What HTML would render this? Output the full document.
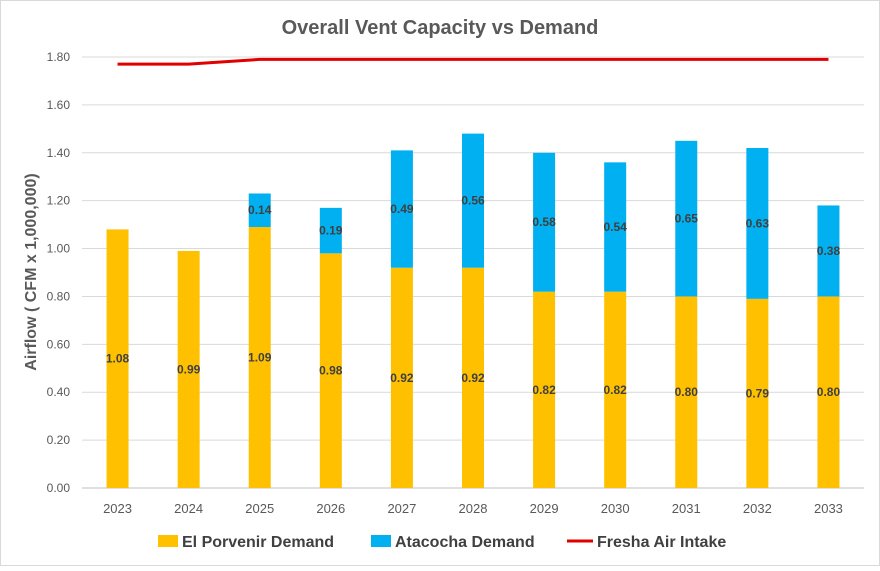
<!DOCTYPE html>
<html><head><meta charset="utf-8"><style>
body{margin:0;background:#fff;font-family:"Liberation Sans",Arial,sans-serif}
svg text{font-family:"Liberation Sans",Arial,sans-serif}
</style></head><body>
<svg id="chart" width="880" height="566">
<rect x="0.5" y="0.5" width="879" height="565" fill="#fff" stroke="#d9d9d9"/>
<text x="440" y="34" text-anchor="middle" font-size="20" font-weight="bold" fill="#595959">Overall Vent Capacity vs Demand</text>
<text transform="translate(36,272) rotate(-90)" text-anchor="middle" font-size="16" font-weight="bold" fill="#595959">Airflow ( CFM x 1,000,000)</text>
<g id="grid"></g><g id="bars"></g><g id="line"></g>
<g>
<rect x="158" y="535" width="20" height="12" fill="#ffc000"/>
<text x="182" y="547" font-size="16" fill="#404040" font-weight="bold">El Porvenir Demand</text>
<rect x="371" y="535" width="20" height="12" fill="#00b0f0"/>
<text x="395" y="547" font-size="16" fill="#404040" font-weight="bold">Atacocha Demand</text>
<line x1="567" y1="541" x2="593" y2="541" stroke="#e00000" stroke-width="3"/>
<text x="597" y="547" font-size="16" fill="#404040" font-weight="bold">Fresha Air Intake</text>
</g>
</svg>
<script>
const years=["2023","2024","2025","2026","2027","2028","2029","2030","2031","2032","2033"];
const elPorvenir=[1.08,0.99,1.09,0.98,0.92,0.92,0.82,0.82,0.80,0.79,0.80];
const atacocha=[0,0,0.14,0.19,0.49,0.56,0.58,0.54,0.65,0.63,0.38];
const freshAir=[1.77,1.77,1.79,1.79,1.79,1.79,1.79,1.79,1.79,1.79,1.79];
const yTicks=[0,0.2,0.4,0.6,0.8,1.0,1.2,1.4,1.6,1.8];
const NS="http://www.w3.org/2000/svg";
const x0=82,x1=864,yb=488,yt=57,ymax=1.8;
const step=(x1-x0)/years.length;
const xc=i=>x0+step*(i+0.5);
const y=v=>yb-(v/ymax)*(yb-yt);
function mk(tag,attrs,parent,txt){const e=document.createElementNS(NS,tag);for(const k in attrs)e.setAttribute(k,attrs[k]);if(txt!==undefined)e.textContent=txt;parent.appendChild(e);return e;}
const grid=document.getElementById('grid'),bars=document.getElementById('bars'),line=document.getElementById('line');
yTicks.forEach(t=>{
 const l=mk('line',{x1:x0,x2:x1,y1:y(t),y2:y(t),stroke:t===0?'#bfbfbf':'#d9d9d9'},grid);
 
 
 const tx=mk('text',{x:70,y:y(t)+4,'text-anchor':'end','font-size':12,fill:'#595959'},grid,t.toFixed(2));
 
 
});
years.forEach((yr,i)=>{
 const tx=mk('text',{x:xc(i),y:513,'text-anchor':'middle','font-size':13,fill:'#595959'},grid,yr);
 
 
 const bw=22,a=elPorvenir[i],b=atacocha[i];
 const r1=mk('rect',{x:xc(i)-bw/2,y:y(a),width:bw,height:yb-y(a),fill:'#ffc000'},bars);
 
 
 const l1=mk('text',{x:xc(i),y:y(a/2)+4,'text-anchor':'middle','font-size':12,'font-weight':'bold',fill:'#404040'},bars,a.toFixed(2));
 
 
 if(b>0){
  const r2=mk('rect',{x:xc(i)-bw/2,y:y(a+b),width:bw,height:y(a)-y(a+b),fill:'#00b0f0'},bars);
  
  
  const l2=mk('text',{x:xc(i),y:y(a+b/2)+4,'text-anchor':'middle','font-size':12,'font-weight':'bold',fill:'#404040'},bars,b.toFixed(2));
  
  
 }
});
const pts=freshAir.map((v,i)=>xc(i)+','+y(v)).join(' ');
const pl=mk('polyline',{points:pts,fill:'none',stroke:'#e00000','stroke-width':3},line);


</script>
</body></html>
